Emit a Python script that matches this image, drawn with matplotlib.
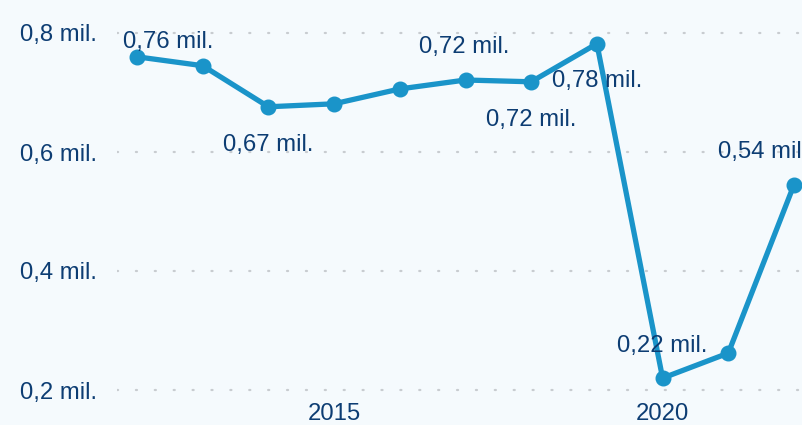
import matplotlib
matplotlib.use("Agg")
import matplotlib.pyplot as plt
from matplotlib.ticker import FixedLocator

years = [2012, 2013, 2014, 2015, 2016, 2017, 2018, 2019, 2020, 2021, 2022]
values = [0.760, 0.745, 0.676, 0.681, 0.706, 0.721, 0.718, 0.782, 0.220, 0.262, 0.545]
label_years = [2012, 2014, 2017, 2018, 2019, 2020, 2022]
label_texts = ["0,76 mil.", "0,67 mil.", "0,72 mil.", "0,72 mil.", "0,78 mil.", "0,22 mil.", "0,54 mil."]
label_offsets_px = [(31, 15), (0, -38), (-1, 33), (0, -38), (0, -37), (0, 32), (-31, 33)]
yticks = [0.2, 0.4, 0.6, 0.8]
ytick_labels = ["0,2 mil.", "0,4 mil.", "0,6 mil.", "0,8 mil."]
xticks = [2015, 2020]

W, H, DPI = 803, 425, 100
bg = "#f5fafd"
txt = "#0d3d73"
line_c = "#1a94c9"
fs = 17.2

plt.rcParams['font.family'] = ['Liberation Sans', 'DejaVu Sans']
fig = plt.figure(figsize=(W / DPI, H / DPI), dpi=DPI, facecolor=bg)
left, right, top, bottom = 117, 803, 0, 400
ax = fig.add_axes([left / W, 1 - bottom / H, (right - left) / W, (bottom - top) / H])
ax.set_facecolor(bg)

ax.plot(years, values, color=line_c, lw=3.8, marker='o', ms=10.5, solid_capstyle='round', zorder=3)

# scale: 0.2 units per 119 px, 0.8 at y=33 px
ppu_y = 119 / 0.2
ax.set_ylim(0.8 - (bottom - 33) / ppu_y, 0.8 + (33 - top) / ppu_y)
ppu_x = 65.7
ax.set_xlim(2012 - (137 - left) / ppu_x, 2022 + (right - 794) / ppu_x)

ax.yaxis.set_major_locator(FixedLocator(yticks))
ax.set_yticklabels(ytick_labels)
ax.xaxis.set_major_locator(FixedLocator(xticks))
ax.set_xticklabels([str(x) for x in xticks])
ax.tick_params(axis='y', length=0, pad=14.4, labelsize=fs, labelcolor=txt)
ax.tick_params(axis='x', length=0, pad=2, labelsize=fs, labelcolor=txt)
for s in ax.spines.values():
    s.set_visible(False)
ax.grid(axis='y', color='#c8ccd0', lw=1.6, linestyle=(0, (0.5, 8.0)), dash_capstyle='round')
ax.set_axisbelow(True)

for yr, t, (dx, dy) in zip(label_years, label_texts, label_offsets_px):
    v = values[years.index(yr)]
    ax.annotate(t, (yr, v), xytext=(dx * 72 / DPI, dy * 72 / DPI), textcoords='offset points',
                ha='center', va='center', fontsize=fs, color=txt, zorder=4, annotation_clip=False)

fig.savefig("out.png", dpi=DPI, facecolor=bg)
